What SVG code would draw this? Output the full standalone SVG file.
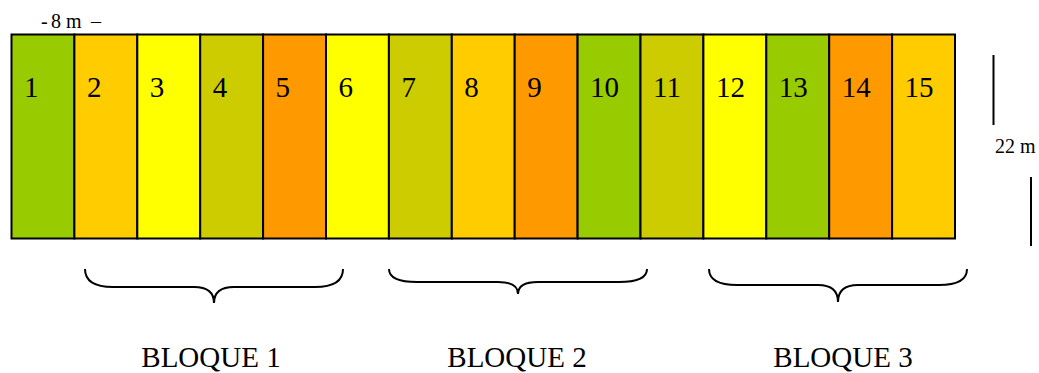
<svg xmlns="http://www.w3.org/2000/svg" width="1039" height="373" viewBox="0 0 1039 373">
<style>
.cell{stroke:#000;stroke-width:2}
.num{font-family:"Liberation Serif","Times New Roman",serif;font-size:29px;fill:#000}
.sm{font-family:"Liberation Serif","Times New Roman",serif;font-size:20px;fill:#000}
.lbl{font-family:"Liberation Serif","Times New Roman",serif;font-size:29px;fill:#000;text-anchor:middle}
.brace{fill:none;stroke:#000;stroke-width:2}
.dim{stroke:#000;stroke-width:2}
.g{fill:#99CC00}.o{fill:#FFCC00}.y{fill:#FFFF00}.k{fill:#CCCC00}.r{fill:#FF9900}
</style>
<rect x="0" y="0" width="1039" height="373" fill="#fff"/>
<g id="plots">
<g id="p1"><rect class="cell g" x="11.5" y="34.5" width="62.9" height="204"/><text class="num" x="24" y="97">1</text></g>
<g id="p2"><rect class="cell o" x="74.4" y="34.5" width="62.9" height="204"/><text class="num" x="86.9" y="97">2</text></g>
<g id="p3"><rect class="cell y" x="137.3" y="34.5" width="62.9" height="204"/><text class="num" x="149.8" y="97">3</text></g>
<g id="p4"><rect class="cell k" x="200.2" y="34.5" width="62.9" height="204"/><text class="num" x="212.7" y="97">4</text></g>
<g id="p5"><rect class="cell r" x="263.1" y="34.5" width="62.9" height="204"/><text class="num" x="275.6" y="97">5</text></g>
<g id="p6"><rect class="cell y" x="326" y="34.5" width="62.9" height="204"/><text class="num" x="338.5" y="97">6</text></g>
<g id="p7"><rect class="cell k" x="388.9" y="34.5" width="62.9" height="204"/><text class="num" x="401.4" y="97">7</text></g>
<g id="p8"><rect class="cell o" x="451.8" y="34.5" width="62.9" height="204"/><text class="num" x="464.3" y="97">8</text></g>
<g id="p9"><rect class="cell r" x="514.7" y="34.5" width="62.9" height="204"/><text class="num" x="527.2" y="97">9</text></g>
<g id="p10"><rect class="cell g" x="577.6" y="34.5" width="62.9" height="204"/><text class="num" x="590.1" y="97">10</text></g>
<g id="p11"><rect class="cell k" x="640.5" y="34.5" width="62.9" height="204"/><text class="num" x="653" y="97">11</text></g>
<g id="p12"><rect class="cell y" x="703.4" y="34.5" width="62.9" height="204"/><text class="num" x="715.9" y="97">12</text></g>
<g id="p13"><rect class="cell g" x="766.3" y="34.5" width="62.9" height="204"/><text class="num" x="778.8" y="97">13</text></g>
<g id="p14"><rect class="cell r" x="829.2" y="34.5" width="62.9" height="204"/><text class="num" x="841.7" y="97">14</text></g>
<g id="p15"><rect class="cell o" x="892.1" y="34.5" width="62.9" height="204"/><text class="num" x="904.6" y="97">15</text></g>
</g>
<g id="dimensions">
<text class="sm" x="41" y="28">-</text>
<text class="sm" x="51" y="28">8 m</text>
<text class="sm" x="91" y="28">–</text>
<line class="dim" x1="993.5" y1="55" x2="993.5" y2="125"/>
<text class="sm" x="995" y="153">22 m</text>
<line class="dim" x1="1031" y1="177" x2="1031" y2="246"/>
</g>
<g id="connectors">
<path class="brace" d="M85,269 C85,282 97,287 113,287 L194,287 C208,287 214,293 214,303 C214,293 220,287 234,287 L315,287 C331,287 343,282 343,269"/>
<path class="brace" d="M389,269 C389,278 399,282 417,282 L498,282 C512,282 518,287 518,294 C518,287 524,282 538,282 L619,282 C637,282 647,278 647,269"/>
<path class="brace" d="M709,269 C709,280 720,285 737,285 L818,285 C832,285 838,291 838,302 C838,291 844,285 858,285 L939,285 C956,285 967,280 967,269"/>
</g>
<g id="labels">
<text class="lbl" x="211" y="367">BLOQUE 1</text>
<text class="lbl" x="517" y="367">BLOQUE 2</text>
<text class="lbl" x="843" y="367">BLOQUE 3</text>
</g>
</svg>
